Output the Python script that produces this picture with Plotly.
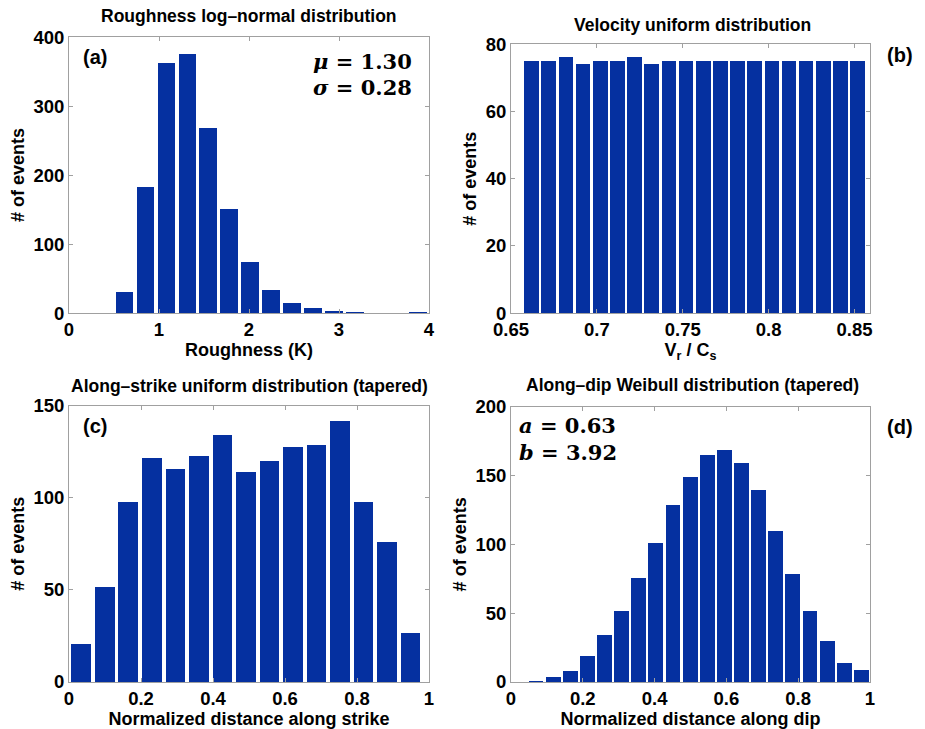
import plotly.graph_objects as go

# ---- data ----
rough_centers = [0.617 + 0.2329 * k for k in range(15)]
rough_counts = [30, 183, 362, 375, 268, 151, 74, 33, 14, 7, 2, 1, 0, 0, 1]

vel_centers = [0.662 + 0.00999 * k for k in range(20)]
vel_counts = [75, 75, 76, 74, 75, 75, 76, 74, 75, 75, 75, 75, 75, 75, 75, 75, 75, 75, 75, 75]

strike_centers = [0.0343 + 0.0653 * k for k in range(15)]
strike_counts = [21, 52, 98, 122, 116, 123, 134, 114, 120, 128, 129, 142, 98, 76, 27]

dip_centers = [0.0696 + 0.0477 * k for k in range(20)]
dip_counts = [1, 4, 8, 19, 34, 52, 76, 101, 129, 149, 165, 169, 159, 140, 110, 79, 52, 30, 14, 9]

BAR = "#0530a0"
FONT = "Liberation Sans"

fig = go.Figure()
fig.add_trace(go.Bar(x=rough_centers, y=rough_counts, width=0.2329 * 0.85,
                     marker=dict(color=BAR, line=dict(width=0)), xaxis="x", yaxis="y"))
fig.add_trace(go.Bar(x=vel_centers, y=vel_counts, width=0.00999 * 0.85,
                     marker=dict(color=BAR, line=dict(width=0)), xaxis="x2", yaxis="y2"))
fig.add_trace(go.Bar(x=strike_centers, y=strike_counts, width=0.0653 * 0.84,
                     marker=dict(color=BAR, line=dict(width=0)), xaxis="x3", yaxis="y3"))
fig.add_trace(go.Bar(x=dip_centers, y=dip_counts, width=0.0477 * 0.87,
                     marker=dict(color=BAR, line=dict(width=0)), xaxis="x4", yaxis="y4"))

tickfont = dict(family=FONT, size=18.5, color="black", weight="bold")
titlefont = dict(family=FONT, size=18, color="black", weight="bold")

def ax(domain, rng, dtick, anchor, title=None, standoff=4, tick0=0):
    d = dict(domain=domain, range=rng, dtick=dtick, tick0=tick0, anchor=anchor,
             showline=True, linecolor="#a0a0a0", linewidth=1, mirror="allticks",
             ticks="inside", ticklen=4, tickcolor="#a0a0a0", showgrid=False,
             zeroline=False, tickfont=tickfont, fixedrange=True, automargin=False)
    if title is not None:
        d["title"] = dict(text=title, font=titlefont, standoff=standoff)
    return d

xa = [0.0746, 0.4638]
xb = [0.5524, 0.9405]
fig.update_layout(
    width=925, height=729,
    margin=dict(l=0, r=0, t=0, b=0, autoexpand=False),
    paper_bgcolor="white", plot_bgcolor="white",
    showlegend=False, bargap=0,
    xaxis=ax(xa, [0, 4], 1, "y", "Roughness (K)", 3),
    yaxis=ax([0.5706, 0.9492], [0, 400], 100, "x", "# of events", 4),
    xaxis2=ax(xb, [0.65, 0.859], 0.05, "y2", "V<sub>r</sub> / C<sub>s</sub>", 1, tick0=0.65),
    yaxis2=ax([0.5706, 0.9392], [0, 80], 20, "x2", "# of events", 4),
    xaxis3=ax(xa, [0, 1], 0.2, "y3", "Normalized distance along strike", 3),
    yaxis3=ax([0.0645, 0.4435], [0, 150], 50, "x3", "# of events", 4),
    xaxis4=ax(xb, [0, 1], 0.2, "y4", "Normalized distance along dip", 3),
    yaxis4=ax([0.0645, 0.4421], [0, 200], 50, "x4", "# of events", 4),
)

ann = []
def text(x, y, s, size=17.5, family=FONT, weight="bold", xanchor="center"):
    ann.append(dict(x=x, y=y, xref="paper", yref="paper", text=s, showarrow=False,
                    xanchor=xanchor, yanchor="middle",
                    font=dict(family=family, size=size, color="black", weight=weight)))

W, H = 925.0, 729.0
text(249 / W, 1 - 16 / H, "Roughness log\u2013normal distribution")
text(692 / W, 1 - 25 / H, "Velocity uniform distribution")
text(249 / W, 1 - 386 / H, "Along\u2013strike uniform distribution (tapered)")
text(692 / W, 1 - 385 / H, "Along\u2013dip Weibull distribution (tapered)")

text(95 / W, 1 - 57 / H, "(a)", size=20)
text(900 / W, 1 - 55 / H, "(b)", size=20)
text(95 / W, 1 - 426 / H, "(c)", size=20)
text(900 / W, 1 - 427 / H, "(d)", size=20)

SERIF = "DejaVu Serif"
text(414 / W, 1 - 61 / H, "<i>\u03bc</i> = 1.30", size=21, family=SERIF, xanchor="right")
text(414 / W, 1 - 88 / H, "<i>\u03c3</i> = 0.28", size=21, family=SERIF, xanchor="right")
text(517 / W, 1 - 425 / H, "<i>a</i> = 0.63", size=21, family=SERIF, xanchor="left")
text(517 / W, 1 - 452 / H, "<i>b</i> = 3.92", size=21, family=SERIF, xanchor="left")

fig.update_layout(annotations=ann)
fig.write_html("out.html")
